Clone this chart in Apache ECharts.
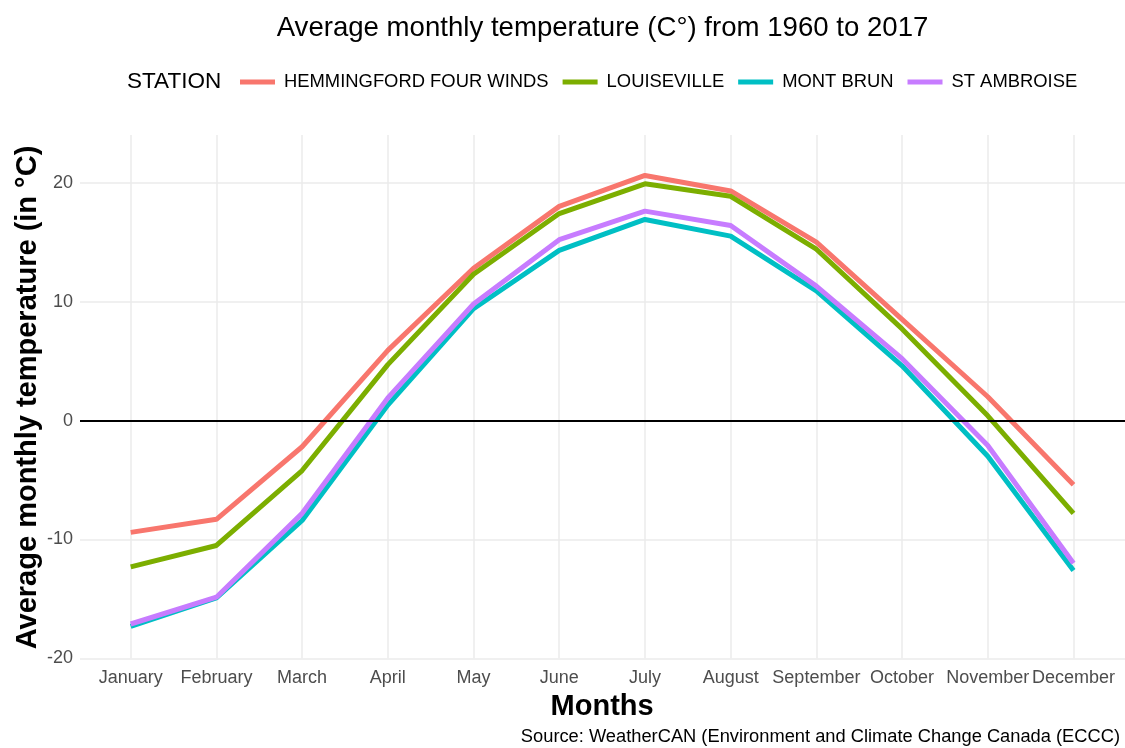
<!DOCTYPE html>
<html>
<head>
<meta charset="utf-8">
<script src="https://cdn.jsdelivr.net/npm/echarts@6/dist/echarts.min.js"></script>
<style>
  html, body { margin: 0; padding: 0; background: #fff; }
  #chart { width: 1125px; height: 748px; }
</style>
</head>
<body>
<div id="chart"></div>
<script>
  // monthly averages 1960-2017
  var months = ['January', 'February', 'March', 'April', 'May', 'June', 'July', 'August', 'September', 'October', 'November', 'December'];
  var stations = ['HEMMINGFORD FOUR WINDS', 'LOUISEVILLE', 'MONT BRUN', 'ST AMBROISE'];
  var hemmingford = [-9.4, -8.3, -2.2, 5.9, 12.8, 18.0, 20.6, 19.3, 15.0, 8.5, 2.0, -5.4];
  var louiseville = [-12.3, -10.5, -4.2, 4.7, 12.3, 17.4, 19.9, 18.85, 14.4, 7.7, 0.4, -7.8];
  var montBrun = [-17.3, -14.9, -8.4, 1.3, 9.4, 14.3, 16.9, 15.5, 10.9, 4.6, -3.0, -12.6];
  var stAmbroise = [-17.1, -14.85, -7.8, 1.9, 9.8, 15.2, 17.6, 16.4, 11.3, 5.2, -2.1, -12.0];
  var yTicks = [-20, -10, 0, 10, 20];

  var colors = ['#F8766D', '#7CAE00', '#00BFC4', '#C77CFF'];
  var font = "'Liberation Sans', Arial, sans-serif";
  var gridGray = '#ebebeb';

  var myChart = echarts.init(document.getElementById('chart'));

  var lineSeries = [hemmingford, louiseville, montBrun, stAmbroise].map(function (vals, i) {
    return {
      name: stations[i],
      type: 'line',
      xAxisIndex: 1,
      yAxisIndex: 1,
      data: vals,
      showSymbol: false,
      symbol: 'none',
      lineStyle: { width: 5, color: colors[i] },
      itemStyle: { color: colors[i] },
      z: 2
    };
  });

  myChart.setOption({
    color: colors,
    animation: false,
    textStyle: { fontFamily: font },
    graphic: [
      {
        type: 'text', x: 602.5, y: 28,
        style: { text: 'Average monthly temperature (C°) from 1960 to 2017', fill: '#000', font: '27.6px ' + font, textAlign: 'center', textVerticalAlign: 'middle' }
      },
      {
        type: 'text', x: 127, y: 82,
        style: { text: 'STATION', fill: '#000', font: '22.5px ' + font, textAlign: 'left', textVerticalAlign: 'middle' }
      },
      {
        // y axis title
        type: 'text', x: 28, y: 397.5, rotation: Math.PI / 2,
        style: { text: 'Average monthly temperature (in °C)', fill: '#000', font: 'bold 29px ' + font, textAlign: 'center', textVerticalAlign: 'middle' }
      },
      {
        type: 'text', x: 1120, y: 737,
        style: { text: 'Source: WeatherCAN (Environment and Climate Change Canada (ECCC)', fill: '#000', font: '18.3px ' + font, textAlign: 'right', textVerticalAlign: 'middle' }
      }
    ],
    legend: {
      data: stations,
      left: 240,
      top: 73,
      padding: 0,
      icon: 'rect',
      itemWidth: 35,
      itemHeight: 5,
      itemGap: 14,
      textStyle: { fontSize: 18.4, color: '#000', fontFamily: font, padding: [0, 0, 0, 4] }
    },
    grid: [
      // full panel: horizontal grid lines, y labels, zero line
      { left: 80, right: 0, top: 135, bottom: 89.5 },
      // months from first to last category
      { left: 130.7, right: 51.5, top: 135, bottom: 89.5 }
    ],
    xAxis: [
      { type: 'value', gridIndex: 0, min: 0, max: 1, show: false },
      {
        type: 'category',
        gridIndex: 1,
        data: months,
        boundaryGap: false,
        name: 'Months',
        nameLocation: 'middle',
        nameGap: 30,
        nameTextStyle: { fontSize: 29, fontWeight: 'bold', color: '#000', fontFamily: font },
        axisLine: { show: false },
        axisTick: { show: false },
        axisLabel: { interval: 0, fontSize: 18, color: '#4d4d4d', margin: 11, fontFamily: font },
        splitLine: { show: true, interval: 0, lineStyle: { color: gridGray, width: 1.5 } }
      }
    ],
    yAxis: [
      {
        type: 'value',
        gridIndex: 0,
        min: yTicks[0],
        max: 24,
        interval: 10,
        axisLine: { show: false },
        axisTick: { show: false },
        axisLabel: { fontSize: 18, color: '#4d4d4d', margin: 7, showMaxLabel: false, fontFamily: font,
          formatter: function (v) { return yTicks.indexOf(v) >= 0 ? String(v) : ''; } },
        splitLine: { show: true, lineStyle: { color: [gridGray, gridGray, gridGray, gridGray, gridGray, 'rgba(0,0,0,0)'], width: 1.5 } }
      },
      { type: 'value', gridIndex: 1, min: yTicks[0], max: 24, interval: 10, show: false }
    ],
    series: lineSeries.concat([{
      name: 'zero',
      type: 'line',
      xAxisIndex: 0,
      yAxisIndex: 0,
      data: [],
      z: 3,
      markLine: {
        silent: true,
        symbol: 'none',
        label: { show: false },
        lineStyle: { color: '#000', width: 2, type: 'solid' },
        data: [{ yAxis: 0 }]
      }
    }])
  });
</script>
</body>
</html>
